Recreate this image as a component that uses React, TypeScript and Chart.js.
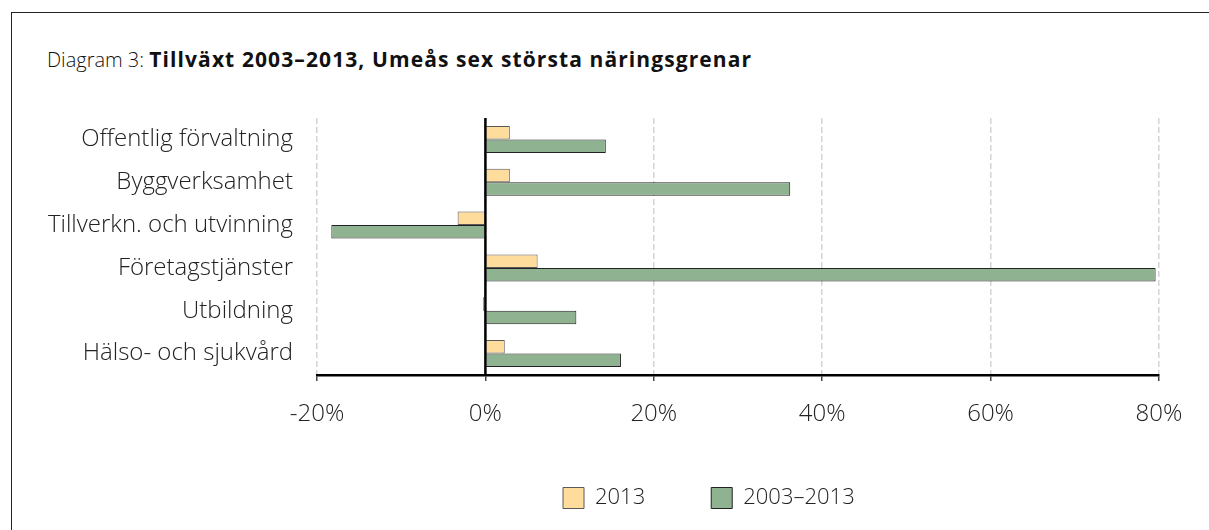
import React, { useEffect, useRef } from "react";
import { Chart, registerables } from "chart.js";

Chart.register(...registerables);

const categories = [
  "Offentlig förvaltning",
  "Byggverksamhet",
  "Tillverkn. och utvinning",
  "Företagstjänster",
  "Utbildning",
  "Hälso- och sjukvård",
];
const series2013 = [2.9, 2.9, -3.3, 6.2, -0.3, 2.3];
const series2003to2013 = [14.3, 36.2, -18.3, 79.6, 10.8, 16.1];
const seriesLabels = ["2013", "2003–2013"];
const xMin = -20;
const xMax = 80;
const xStep = 20;

const FONT = "'Open Sans', 'Noto Sans', sans-serif";

export default function App() {
  const ref = useRef<HTMLCanvasElement | null>(null);

  useEffect(() => {
    if (!ref.current) return;
    const zeroLine = {
      id: "zeroLine",
      afterDatasetsDraw(chart: any) {
        const x = chart.scales.x.getPixelForValue(0);
        const { top, bottom } = chart.chartArea;
        const ctx = chart.ctx;
        ctx.save();
        ctx.strokeStyle = "#000";
        ctx.lineWidth = 2.5;
        ctx.beginPath();
        ctx.moveTo(x, top);
        ctx.lineTo(x, bottom);
        ctx.stroke();
        ctx.restore();
      },
    };
    const legendShift = {
      id: "legendShift",
      afterLayout(chart: any) {
        const lg = chart.legend;
        if (!lg || !lg.lineWidths) return;
        const lw = lg.lineWidths[0];
        const pad = 66;
        const start = 563;
        lg.right = start + lw + 20;
        lg.left = 2 * start - pad + lw - lg.right;
      },
    };
    const chart = new Chart(ref.current, {
      type: "bar",
      data: {
        labels: categories,
        datasets: [
          {
            label: seriesLabels[0],
            data: series2013,
            backgroundColor: "#FEDD9C",
            borderColor: "#5a5a5a",
            borderWidth: 1,
            categoryPercentage: 0.63,
            barPercentage: 1.0,
          },
          {
            label: seriesLabels[1],
            data: series2003to2013,
            backgroundColor: "#8FB391",
            borderColor: "#222",
            borderWidth: 1,
            categoryPercentage: 0.63,
            barPercentage: 1.0,
          },
        ],
      },
      options: {
        indexAxis: "y",
        animation: false,
        responsive: false,
        layout: { padding: { left: 10, right: 50, top: 118, bottom: 11 } },
        plugins: {
          title: { display: false },
          tooltip: { enabled: false },
          legend: {
            position: "bottom",
            align: "center",
            labels: {
              boxWidth: 21,
              boxHeight: 21,
              padding: 66,
              color: "#222",
              font: { family: FONT, size: 22, weight: "300" },
            },
          },
        },
        scales: {
          x: {
            min: xMin,
            max: xMax,
            ticks: {
              stepSize: xStep,
              color: "#222",
              padding: 19,
              font: { family: FONT, size: 24, weight: "300" },
              callback: (v: any) => `${v}%`,
            },
            grid: {
              color: "#d4d4d4",
              lineWidth: 1.5,
              tickColor: "#444",
              tickLength: 6,
              tickWidth: 1.5,
            },
            border: { display: true, color: "#000", width: 2.5, dash: [6, 3] },
            afterFit: (s: any) => {
              s.height = 46;
            },
          },
          y: {
            grid: { display: false, drawTicks: false },
            border: { display: false },
            ticks: {
              color: "#222",
              padding: 24,
              font: { family: FONT, size: 24, weight: "300" },
            },
            afterFit: (s: any) => {
              s.width = 307;
            },
          },
        },
      },
      plugins: [zeroLine, legendShift],
    });
    return () => chart.destroy();
  }, []);

  return (
    <div style={{ position: "fixed", left: 0, top: 0, width: 1209, height: 530, background: "#fff" }}>
      <div
        style={{
          position: "absolute",
          left: 11,
          top: 12,
          width: 1209,
          height: 530,
          borderTop: "1.5px solid #222",
          borderLeft: "1.5px solid #222",
        }}
      />
      <div
        style={{
          position: "absolute",
          left: 47,
          top: 45,
          fontFamily: FONT,
          fontSize: 20,
          fontWeight: 300,
          color: "#111",
          whiteSpace: "nowrap",
        }}
      >
        Diagram 3:{" "}
        <b style={{ fontWeight: 700, fontSize: 21, letterSpacing: "1.1px" }}>
          Tillväxt 2003–2013, Umeås sex största näringsgrenar
        </b>
      </div>
      <canvas ref={ref} width={1209} height={530} style={{ position: "absolute", left: 0, top: 0 }} />
    </div>
  );
}
